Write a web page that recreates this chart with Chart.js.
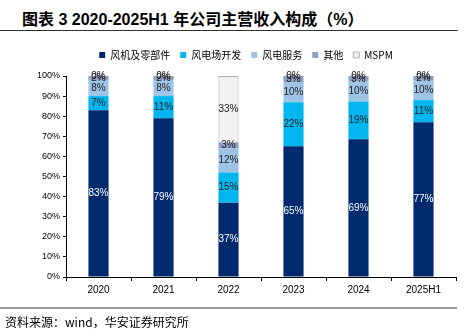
<!DOCTYPE html>
<html>
<head>
<meta charset="utf-8">
<script src="https://cdn.jsdelivr.net/npm/chart.js@4/dist/chart.umd.min.js"></script>
<style>
  body { margin: 0; width: 465px; height: 330px; position: relative; background: #fff; overflow: hidden; }
  #title { position: absolute; left: 22px; top: 6px; font: bold 16px "Liberation Sans", "Noto Sans CJK SC", sans-serif; color: #000; white-space: nowrap; }
  #topline { position: absolute; left: 0; top: 30px; width: 458px; height: 0; border-top: 1.5px solid #333; }
  #botline { position: absolute; left: 0; top: 307px; width: 457px; height: 0; border-top: 2px solid #999; }
  #source { position: absolute; left: 5px; top: 313px; font: 12px "Noto Sans CJK SC", sans-serif; color: #000; white-space: nowrap; }
  #wrap { position: absolute; left: 0; top: 0; width: 465px; height: 330px; }
</style>
</head>
<body>
<div id="title">图表 3 2020-2025H1 年公司主营收入构成（%）</div>
<div id="topline"></div>
<div id="wrap"><canvas id="mixChart" width="465" height="330"></canvas></div>
<div id="botline"></div>
<div id="source">资料来源：wind，华安证券研究所</div>
<script>
"use strict";

var years = ['2020', '2021', '2022', '2023', '2024', '2025H1'];
var turbines = [83, 79, 37, 65, 68.5, 77];
var windFarms = [7, 11, 15, 22, 18.8, 11];
var services = [8, 8, 12, 10, 9.9, 10];
var others = [2, 2, 3, 3, 2.8, 2];
var mspm = [0, 0, 33, 0, 0, 0];
var yTicks = [0, 10, 20, 30, 40, 50, 60, 70, 80, 90, 100];

// labels in the middle of each segment
var segLabels = {
    id: 'segLabels',
    afterDatasetsDraw: function (chart) {
        var c = chart.ctx;
        c.save();
        c.font = '10px "Liberation Sans", Arial, sans-serif';
        c.textAlign = 'center';
        c.textBaseline = 'middle';
        chart.data.datasets.forEach(function (ds, i) {
            var meta = chart.getDatasetMeta(i);
            meta.data.forEach(function (bar, j) {
                c.fillStyle = i === 0 ? '#fff' : '#222';
                c.fillText(Math.round(ds.data[j]) + '%', bar.x, (bar.y + bar.base) / 2);
            });
        });
        c.restore();
    }
};

// a bit more room under the legend
var legendGap = {
    id: 'legendGap',
    beforeLayout: function (chart) {
        var lg = chart.legend;
        if (lg && !lg._gapped) {
            var fit = lg.fit;
            lg.fit = function () { fit.call(this); this.height += 6; };
            lg._gapped = true;
        }
    }
};

var ctx = document.getElementById('mixChart').getContext('2d');
var mixChart = new Chart(ctx, {
    type: 'bar',
    data: {
        labels: years,
        datasets: [{
            label: '风机及零部件',
            data: turbines,
            backgroundColor: '#002A6E'
        }, {
            label: '风电场开发',
            data: windFarms,
            backgroundColor: '#00B6EE'
        }, {
            label: '风电服务',
            data: services,
            backgroundColor: '#9DC3E6'
        }, {
            label: '其他',
            data: others,
            backgroundColor: '#8FA0C4'
        }, {
            label: 'MSPM',
            data: mspm,
            backgroundColor: '#F2F2F2',
            borderColor: '#B0B0B0',
            borderWidth: 1
        }]
    },
    options: {
        responsive: false,
        animation: false,
        maintainAspectRatio: false,
        layout: { padding: { left: 36, right: 9, top: 40, bottom: 33 } },
        datasets: { bar: { categoryPercentage: 1, barPercentage: 0.31 } },
        plugins: {
            tooltip: { enabled: false },
            legend: {
                position: 'top',
                labels: {
                    boxWidth: 6,
                    boxHeight: 6,
                    padding: 10,
                    color: '#000',
                    font: { size: 10, family: '"Noto Sans CJK SC", sans-serif' },
                    generateLabels: function (chart) {
                        var items = Chart.defaults.plugins.legend.labels.generateLabels(chart);
                        items.forEach(function (it) { it.lineWidth = it.text === 'MSPM' ? 1 : 0; });
                        return items;
                    }
                }
            }
        },
        scales: {
            x: {
                stacked: true,
                afterFit: function (s) { s.height = 20; },
                border: { color: '#000', width: 1 },
                grid: { drawOnChartArea: false, tickLength: 4, color: '#000', offset: true },
                ticks: { padding: 3, color: '#000', font: { size: 10, family: '"Liberation Sans", Arial, sans-serif' } }
            },
            y: {
                stacked: true,
                min: 0,
                max: 100,
                afterFit: function (s) { s.width = 30; },
                afterBuildTicks: function (s) { s.ticks = yTicks.map(function (v) { return { value: v }; }); },
                border: { color: '#000', width: 1 },
                grid: { drawOnChartArea: false, tickLength: 3, color: '#000' },
                ticks: {
                    padding: 3,
                    color: '#000',
                    font: { size: 9, family: '"Liberation Sans", Arial, sans-serif' },
                    callback: function (v) { return v + '%'; }
                }
            }
        }
    },
    plugins: [segLabels, legendGap]
});
</script>
</body>
</html>
